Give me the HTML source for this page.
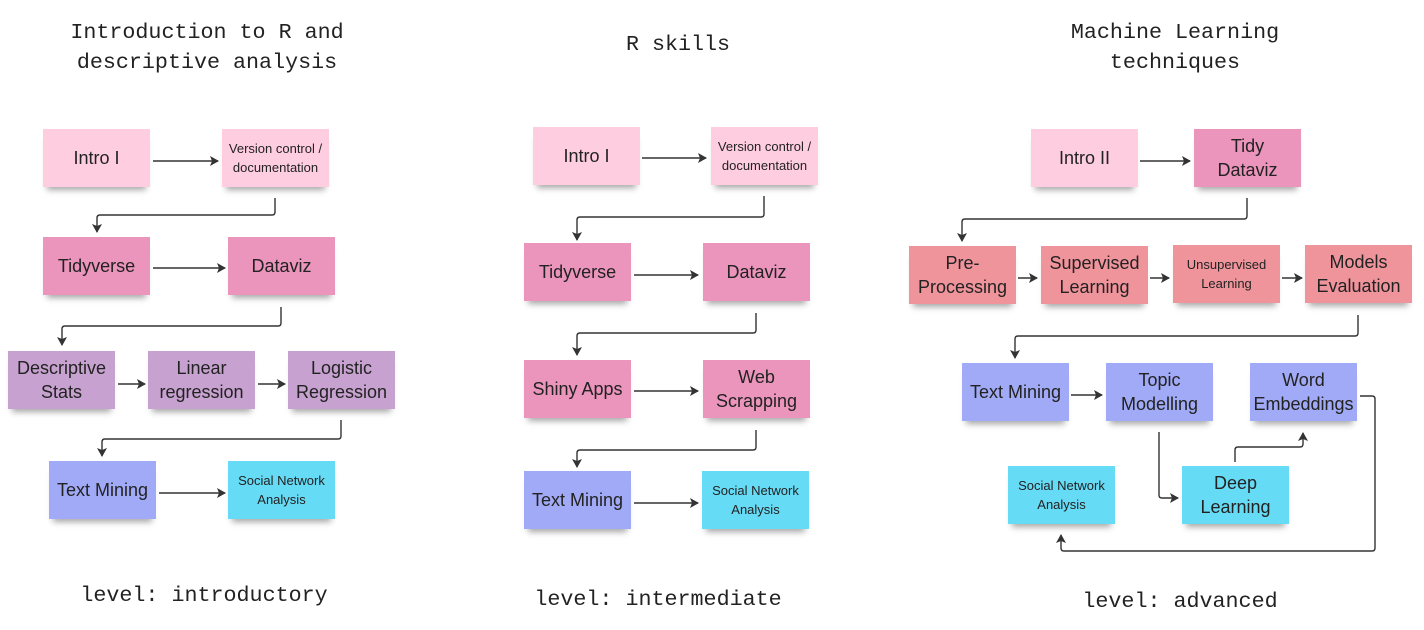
<!DOCTYPE html>
<html><head><meta charset="utf-8"><style>
body{margin:0;width:1424px;height:630px;background:#fff;position:relative;overflow:hidden;font-family:"Liberation Sans","DejaVu Sans",sans-serif;}
.b{position:absolute;width:107px;height:58px;display:flex;align-items:center;justify-content:center;text-align:center;color:#222;font-size:18px;line-height:24px;box-shadow:0 7px 6px -4px rgba(0,0,0,.35);}
.s{font-size:13px;line-height:19px;}
.p1{background:#ffcde0}.p2{background:#eb94bc}.pu{background:#c7a1cf}.bl{background:#a1aaf6}.cy{background:#66dbf5}.sa{background:#f0949c}
.t{position:absolute;font-family:"Liberation Mono",monospace;font-size:21.7px;color:#222;text-align:center;line-height:30px;transform:translateX(-50%);white-space:nowrap;}
svg{position:absolute;left:0;top:0}
</style></head><body>
<div class="t" style="left:207px;top:18px">Introduction to R and<br>descriptive analysis</div>
<div class="t" style="left:678px;top:30px">R skills</div>
<div class="t" style="left:1175px;top:18px">Machine Learning<br>techniques</div>
<div class="t" style="left:204px;top:581px">level: introductory</div>
<div class="t" style="left:658px;top:585px">level: intermediate</div>
<div class="t" style="left:1180px;top:587px">level: advanced</div>

<div class="b p1" style="left:43px;top:129px">Intro I</div>
<div class="b p1 s" style="left:222px;top:129px">Version control /<br>documentation</div>
<div class="b p2" style="left:43px;top:237px">Tidyverse</div>
<div class="b p2" style="left:228px;top:237px">Dataviz</div>
<div class="b pu" style="left:8px;top:351px">Descriptive<br>Stats</div>
<div class="b pu" style="left:148px;top:351px">Linear<br>regression</div>
<div class="b pu" style="left:288px;top:351px">Logistic<br>Regression</div>
<div class="b bl" style="left:49px;top:461px">Text Mining</div>
<div class="b cy s" style="left:228px;top:461px">Social Network<br>Analysis</div>

<div class="b p1" style="left:533px;top:127px">Intro I</div>
<div class="b p1 s" style="left:711px;top:127px">Version control /<br>documentation</div>
<div class="b p2" style="left:524px;top:243px">Tidyverse</div>
<div class="b p2" style="left:703px;top:243px">Dataviz</div>
<div class="b p2" style="left:524px;top:360px">Shiny Apps</div>
<div class="b p2" style="left:703px;top:360px">Web<br>Scrapping</div>
<div class="b bl" style="left:524px;top:471px">Text Mining</div>
<div class="b cy s" style="left:702px;top:471px">Social Network<br>Analysis</div>

<div class="b p1" style="left:1031px;top:129px">Intro II</div>
<div class="b p2" style="left:1194px;top:129px">Tidy<br>Dataviz</div>
<div class="b sa" style="left:909px;top:246px">Pre-<br>Processing</div>
<div class="b sa" style="left:1041px;top:246px">Supervised<br>Learning</div>
<div class="b sa s" style="left:1173px;top:245px">Unsupervised<br>Learning</div>
<div class="b sa" style="left:1305px;top:245px">Models<br>Evaluation</div>
<div class="b bl" style="left:962px;top:363px">Text Mining</div>
<div class="b bl" style="left:1106px;top:363px">Topic<br>Modelling</div>
<div class="b bl" style="left:1250px;top:363px">Word<br>Embeddings</div>
<div class="b cy s" style="left:1008px;top:466px">Social Network<br>Analysis</div>
<div class="b cy" style="left:1182px;top:466px">Deep<br>Learning</div>

<svg width="1424" height="630">
<defs><marker id="a" markerWidth="9" markerHeight="10" refX="8" refY="5" orient="auto" markerUnits="userSpaceOnUse"><path d="M0,0 L9,5 L0,10 L2,5 Z" fill="#333"/></marker></defs>
<g fill="none" stroke="#333" stroke-width="1.4" marker-end="url(#a)">
<path d="M153,161H218"/>
<path d="M275,198V212Q275,215 272,215H100Q97,215 97,218V232"/>
<path d="M153,268H225"/>
<path d="M281,307V323Q281,326 278,326H65Q62,326 62,329V345"/>
<path d="M118,384H145"/><path d="M258,384H285"/>
<path d="M341,420V436Q341,439 338,439H105Q102,439 102,442V456"/>
<path d="M159,493H225"/>

<path d="M642,158H706"/>
<path d="M764,196V214Q764,217 761,217H580Q577,217 577,220V240"/>
<path d="M634,275H698"/>
<path d="M756,313V330Q756,333 753,333H580Q577,333 577,336V355"/>
<path d="M634,391H698"/>
<path d="M756,430V447Q756,450 753,450H580Q577,450 577,453V467"/>
<path d="M634,503H698"/>

<path d="M1140,161H1190"/>
<path d="M1247,198V216Q1247,219 1244,219H965Q962,219 962,222V241"/>
<path d="M1018,278H1037"/><path d="M1150,278H1169"/><path d="M1282,278H1302"/>
<path d="M1358,315V333Q1358,336 1355,336H1018Q1015,336 1015,339V358"/>
<path d="M1071,395H1102"/>
<path d="M1159,432V495Q1159,498 1162,498H1178"/>
<path d="M1235,462V450Q1235,447 1238,447H1300Q1303,447 1303,444V433"/>
<path d="M1360,396H1372Q1375,396 1375,399V548Q1375,551 1372,551H1064Q1061,551 1061,548V535"/>
</g></svg>
</body></html>
